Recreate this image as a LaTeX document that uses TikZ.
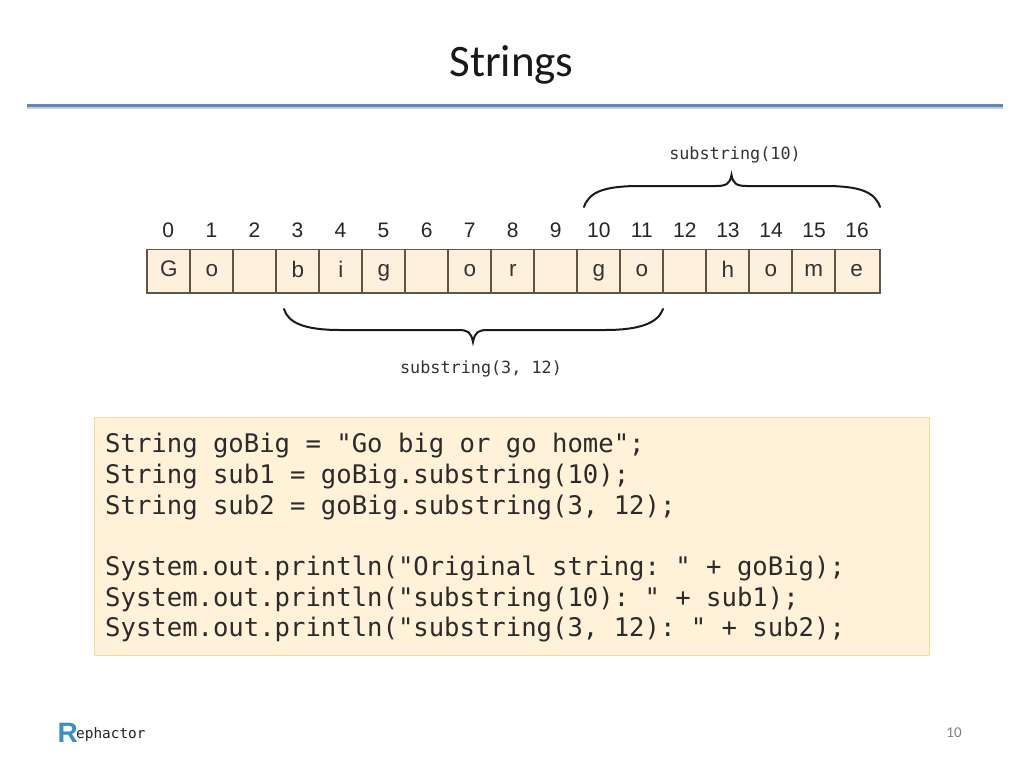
\documentclass[tikz,border=0pt]{standalone}
\usepackage{fontspec}
\setmainfont{Carlito}
\newfontfamily\cellfont{Liberation Sans}
\newfontfamily\codefont{DejaVu Sans Mono}
\newfontfamily\logofont{DejaVu Sans Mono}
\frenchspacing
\definecolor{cellfill}{HTML}{FDF1DD}
\definecolor{cellline}{HTML}{5E5746}
\definecolor{codefill}{HTML}{FFF2D9}
\definecolor{codeline}{HTML}{F5D9A0}
\definecolor{rule}{HTML}{5B88C8}
\definecolor{logoblue}{HTML}{3B8FC4}
\definecolor{txt}{HTML}{2B2B2B}
\tikzset{
  cell/.style={draw=cellline,line width=1.8pt,fill=cellfill,minimum width=43pt,minimum height=43.5pt,inner sep=0pt,anchor=center,font=\cellfont\fontsize{22.5}{22.5}\selectfont,text=black!80},
  idx/.style={inner sep=0pt,font=\cellfont\fontsize{21}{21}\selectfont,text=black!85},
  sublabel/.style={inner sep=0pt,font=\codefont\fontsize{16.8}{16.8}\selectfont,text=black!80},
  bracket/.style={line width=2pt,black!90,line cap=round},
  codeline/.style={inner sep=0pt,anchor=base west,font=\codefont\fontsize{25.6}{25.6}\selectfont,text=txt}
}
\begin{document}
\begin{tikzpicture}[x=1pt,y=-1pt]
\useasboundingbox (0,0) rectangle (1024,768);
\fill[white] (0,0) rectangle (1024,768);
\node[inner sep=0pt,font=\fontsize{45}{45}\selectfont,text=black!90] (title) at (511.5,65) {Strings};
\coordinate (ruleA) at (27,105.5);
\coordinate (ruleB) at (1003,105.5);
\draw[line width=4pt,black!20] ([yshift=-1.8pt]ruleA) -- ([yshift=-1.8pt]ruleB);
\draw[line width=3pt,rule] (ruleA) -- (ruleB);
% cells
\foreach \i/\c in {0/G,1/o,2/{},3/b,4/i,5/g,6/{},7/o,8/r,9/{},10/g,11/o,12/{},13/h,14/o,15/m}{
  \node[cell] (c\i) at ({168.8+43.0*\i},271.3) {\vphantom{Ag}\c};
}
\node[cell,minimum width=44.7pt] (c16) at (857.65,271.3) {\vphantom{Ag}e\kern2pt};
\foreach \i in {0,...,16}{
  \node[idx] (n\i) at ({168.3+43.05*\i},230.5) {\i};
}
% top bracket
\coordinate (tL) at (584,207);
\coordinate (tR) at (880,207);
\coordinate (tM) at (731.5,175);
\draw[bracket] (tL) .. controls (589,192) and (604,186) .. (640,186) -- (716,186)
  .. controls (726,186) and (730,184) .. (tM)
  .. controls (733,184) and (737,186) .. (747,186) -- (825,186)
  .. controls (860,186) and (875,192) .. (tR);
\node[sublabel] (subA) at (735,154.5) {substring(10)};
% bottom bracket
\coordinate (bL) at (284,309);
\coordinate (bR) at (663,309);
\coordinate (bM) at (473,342);
\draw[bracket] (bL) .. controls (288,323) and (305,330) .. (340,330) -- (458,330)
  .. controls (468,330) and (471,332) .. (bM)
  .. controls (475,332) and (478,330) .. (488,330) -- (605,330)
  .. controls (640,330) and (658,323) .. (bR);
\node[sublabel] (subB) at (481,368.5) {substring(3, 12)};
% code box
\node[draw=codeline,line width=0.8pt,fill=codefill,minimum width=835pt,minimum height=238pt,inner sep=0pt] (code) at (511.5,536.5) {};
\foreach \y/\t in {
 452.5/{String goBig = "Go big or go home";},
 483/{String sub1 = goBig.substring(10);},
 514/{String sub2 = goBig.substring(3, 12);},
 575/{System.out.println("Original string: " + goBig);},
 606/{System.out.println("substring(10): " + sub1);},
 636.5/{System.out.println("substring(3, 12): " + sub2);}}{
  \node[codeline] at (105,\y) {\t};
}
% footer
\node[inner sep=0pt,anchor=base west,font=\cellfont\bfseries\fontsize{28}{28}\selectfont,text=logoblue] (logoR) at (57.5,742) {R};
\node[inner sep=0pt,anchor=base west,font=\logofont\fontsize{14.4}{14.4}\selectfont,text=black!85] (logoT) at (76,738) {ephactor};
\node[inner sep=0pt,font=\fontsize{15}{15}\selectfont,text=black!50] (page) at (954,733) {10};
\end{tikzpicture}
\end{document}
